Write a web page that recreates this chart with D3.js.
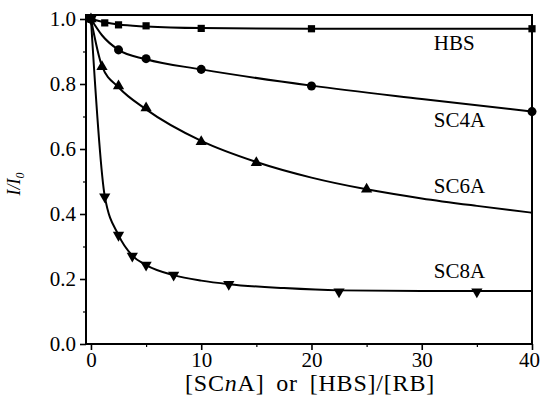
<!DOCTYPE html>
<html>
<head>
<meta charset="utf-8">
<script src="https://d3js.org/d3.v7.min.js"></script>
<style>
  body { margin: 0; background: #fff; }
  svg { font-family: "Liberation Serif", "Times New Roman", serif; }
  .tick-label { font-size: 21px; }
  .series-label { font-size: 21px; }
</style>
</head>
<body>
<div id="chart"></div>
<script>
// markers
var hbsX  = [0, 1.25, 2.5, 5, 10, 20, 40];
var hbsY  = [1, 0.988, 0.982, 0.979, 0.971, 0.970, 0.970];
var sc4aX = [0, 2.5, 5, 10, 20, 40];
var sc4aY = [1, 0.905, 0.878, 0.845, 0.794, 0.715];
var sc6aX = [0, 1, 2.5, 5, 10, 15, 25];
var sc6aY = [1, 0.853, 0.794, 0.726, 0.622, 0.558, 0.476];
var sc8aX = [0, 1.25, 2.5, 3.75, 5, 7.5, 12.5, 22.5, 35];
var sc8aY = [1, 0.453, 0.335, 0.271, 0.243, 0.212, 0.184, 0.161, 0.161];

// fitted curves
var hbsFitX  = [0, 1.25, 2.5, 5, 10, 20, 40];
var hbsFitY  = [1, 0.99, 0.983, 0.977, 0.972, 0.970, 0.970];
var sc4aFitX = [0, 1, 2.5, 5, 10, 20, 30, 40];
var sc4aFitY = [1, 0.95, 0.905, 0.876, 0.845, 0.795, 0.754, 0.715];
var sc6aFitX = [0, 1, 2.5, 5, 10, 15, 20, 25, 30, 35, 40];
var sc6aFitY = [1, 0.855, 0.79, 0.722, 0.625, 0.56, 0.512, 0.476, 0.448, 0.425, 0.404];
var sc8aFitX = [0, 1.25, 2.5, 3.75, 5, 7.5, 10, 12.5, 17.5, 22.5, 30, 40];
var sc8aFitY = [1, 0.455, 0.335, 0.272, 0.243, 0.212, 0.195, 0.184, 0.172, 0.165, 0.163, 0.163];

var seriesNames = ["HBS", "SC4A", "SC6A", "SC8A"];
var labelX = 31.1;
var labelY = [0.905, 0.668, 0.464, 0.202];

var xTicks = [0, 10, 20, 30, 40];
var xMinor = [5, 15, 25, 35];
var yTicks = [0, 0.2, 0.4, 0.6, 0.8, 1.0];
var yMinor = [0.1, 0.3, 0.5, 0.7, 0.9];

var width = 540, height = 401;
var mLeft = 86, mRight = 532, mTop = 15, mBottom = 344;

var svg = d3.select("#chart").append("svg")
  .attr("width", width)
  .attr("height", height);

var x = d3.scaleLinear().domain([-0.45, 40]).range([mLeft, mRight]);
var y = d3.scaleLinear().domain([0, 1.0123]).range([mBottom, mTop]);

/* axes */
var xAxis = d3.axisBottom(x).tickValues(xTicks).tickSize(6).tickFormat(d3.format("d"));
var yAxis = d3.axisLeft(y).tickValues(yTicks).tickSize(6).tickFormat(d3.format(".1f"));

var gx = svg.append("g").attr("transform", `translate(0,${mBottom})`).call(xAxis);
var gy = svg.append("g").attr("transform", `translate(${mLeft},0)`).call(yAxis);
[gx, gy].forEach(function(g) {
  g.select(".domain").remove();
  g.selectAll(".tick line").attr("stroke", "#000").attr("stroke-width", 1.6);
  g.selectAll(".tick text").attr("class", "tick-label").attr("fill", "#000")
    .style("font-family", "Liberation Serif, serif");
});
gx.selectAll(".tick text").attr("dy", "0.71em").attr("y", 8);
// last label sits against the right edge
gx.selectAll(".tick text").filter(d => d === 40).attr("x", -3);
gy.selectAll(".tick text").attr("x", -10);

svg.append("g").attr("transform", `translate(0,${mBottom})`)
  .call(d3.axisBottom(x).tickValues(xMinor).tickSize(3).tickFormat(""))
  .call(g => g.select(".domain").remove())
  .selectAll("line").attr("stroke", "#000").attr("stroke-width", 1.2);
svg.append("g").attr("transform", `translate(${mLeft},0)`)
  .call(d3.axisLeft(y).tickValues(yMinor).tickSize(3).tickFormat(""))
  .call(g => g.select(".domain").remove())
  .selectAll("line").attr("stroke", "#000").attr("stroke-width", 1.2);

/* frame */
svg.append("rect")
  .attr("x", mLeft).attr("y", mTop)
  .attr("width", mRight - mLeft).attr("height", mBottom - mTop)
  .attr("fill", "none").attr("stroke", "#000").attr("stroke-width", 2);

/* fitted lines */
var line = d3.line()
  .x(d => x(d[0]))
  .y(d => y(d[1]))
  .curve(d3.curveMonotoneX);

var fits = [[hbsFitX, hbsFitY], [sc4aFitX, sc4aFitY], [sc6aFitX, sc6aFitY], [sc8aFitX, sc8aFitY]];
fits.forEach(function(f) {
  svg.append("path")
    .datum(d3.zip(f[0], f[1]))
    .attr("d", line)
    .attr("fill", "none")
    .attr("stroke", "#000")
    .attr("stroke-width", 2);
});

/* markers */
var markers = [
  {xs: hbsX, ys: hbsY, type: d3.symbolSquare, size: 52, rot: 0},
  {xs: sc4aX, ys: sc4aY, type: d3.symbolCircle, size: 64, rot: 0},
  {xs: sc6aX, ys: sc6aY, type: d3.symbolTriangle, size: 55, rot: 0},
  {xs: sc8aX, ys: sc8aY, type: d3.symbolTriangle, size: 55, rot: 180}
];
markers.forEach(function(m) {
  svg.append("g").selectAll("path")
    .data(d3.zip(m.xs, m.ys)).enter()
    .append("path")
    .attr("d", d3.symbol().type(m.type).size(m.size))
    .attr("transform", d => `translate(${x(d[0])},${y(d[1])}) rotate(${m.rot})`)
    .attr("fill", "#000");
});

/* series labels */
svg.append("g").selectAll("text")
  .data(seriesNames).enter()
  .append("text")
  .attr("class", "series-label")
  .attr("x", x(labelX))
  .attr("y", (d, i) => y(labelY[i]))
  .text(d => d);

/* axis titles */
var xt = svg.append("text")
  .attr("x", 310)
  .attr("y", 391)
  .attr("text-anchor", "middle")
  .style("font-size", "24px")
  .style("letter-spacing", "0.8px")
  .style("word-spacing", "5px");
xt.append("tspan").text("[SC");
xt.append("tspan").style("font-style", "italic").text("n");
xt.append("tspan").text("A] or [HBS]/[RB]");

var yt = svg.append("text")
  .attr("transform", "translate(20,184) rotate(-90)")
  .attr("text-anchor", "middle")
  .style("font-size", "18px")
  .style("font-style", "italic");
yt.append("tspan").text("I/I");
yt.append("tspan").attr("dy", 4).style("font-size", "12px").text("0");
</script>
</body>
</html>
